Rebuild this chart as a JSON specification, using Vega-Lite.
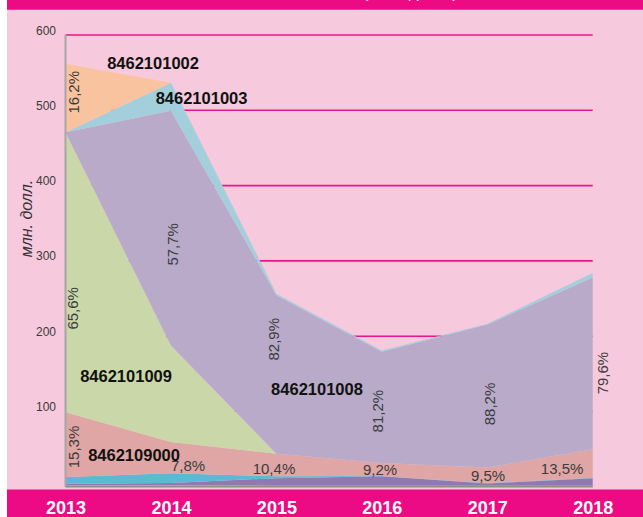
{
  "$schema": "https://vega.github.io/schema/vega-lite/v6.json",
  "width": 636,
  "height": 517,
  "autosize": {"type": "none"},
  "padding": {"left": 7, "top": 0, "right": 0, "bottom": 0},
  "background": "white",
  "view": {"fill": "#f7c9dd", "stroke": null},
  "datasets": {
    "series": [
      {"year": 2013, "code": "s1", "ord": 1, "value": 1.2},
      {"year": 2014, "code": "s1", "ord": 1, "value": 1.2},
      {"year": 2015, "code": "s1", "ord": 1, "value": 1},
      {"year": 2016, "code": "s1", "ord": 1, "value": 1},
      {"year": 2017, "code": "s1", "ord": 1, "value": 1},
      {"year": 2018, "code": "s1", "ord": 1, "value": 1},
      {"year": 2013, "code": "s2", "ord": 2, "value": 0.8},
      {"year": 2014, "code": "s2", "ord": 2, "value": 0.8},
      {"year": 2015, "code": "s2", "ord": 2, "value": 0.5},
      {"year": 2016, "code": "s2", "ord": 2, "value": 0.5},
      {"year": 2017, "code": "s2", "ord": 2, "value": 0.5},
      {"year": 2018, "code": "s2", "ord": 2, "value": 0.5},
      {"year": 2013, "code": "s3", "ord": 3, "value": 2},
      {"year": 2014, "code": "s3", "ord": 3, "value": 3},
      {"year": 2015, "code": "s3", "ord": 3, "value": 10},
      {"year": 2016, "code": "s3", "ord": 3, "value": 12.5},
      {"year": 2017, "code": "s3", "ord": 3, "value": 3},
      {"year": 2018, "code": "s3", "ord": 3, "value": 10},
      {"year": 2013, "code": "s4", "ord": 4, "value": 9},
      {"year": 2014, "code": "s4", "ord": 4, "value": 13},
      {"year": 2015, "code": "s4", "ord": 4, "value": 2.5},
      {"year": 2016, "code": "s4", "ord": 4, "value": 0.5},
      {"year": 2017, "code": "s4", "ord": 4, "value": 0.5},
      {"year": 2018, "code": "s4", "ord": 4, "value": 0.5},
      {"year": 2013, "code": "8462109000", "ord": 5, "value": 86},
      {"year": 2014, "code": "8462109000", "ord": 5, "value": 41.5},
      {"year": 2015, "code": "8462109000", "ord": 5, "value": 30},
      {"year": 2016, "code": "8462109000", "ord": 5, "value": 17},
      {"year": 2017, "code": "8462109000", "ord": 5, "value": 20.5},
      {"year": 2018, "code": "8462109000", "ord": 5, "value": 38},
      {"year": 2013, "code": "8462101009", "ord": 6, "value": 372},
      {"year": 2014, "code": "8462101009", "ord": 6, "value": 128},
      {"year": 2015, "code": "8462101009", "ord": 6, "value": 0},
      {"year": 2016, "code": "8462101009", "ord": 6, "value": 0},
      {"year": 2017, "code": "8462101009", "ord": 6, "value": 0},
      {"year": 2018, "code": "8462101009", "ord": 6, "value": 0},
      {"year": 2013, "code": "8462101008", "ord": 7, "value": 0},
      {"year": 2014, "code": "8462101008", "ord": 7, "value": 312},
      {"year": 2015, "code": "8462101008", "ord": 7, "value": 210.5},
      {"year": 2016, "code": "8462101008", "ord": 7, "value": 148},
      {"year": 2017, "code": "8462101008", "ord": 7, "value": 190},
      {"year": 2018, "code": "8462101008", "ord": 7, "value": 228},
      {"year": 2013, "code": "8462101003", "ord": 8, "value": 0},
      {"year": 2014, "code": "8462101003", "ord": 8, "value": 37},
      {"year": 2015, "code": "8462101003", "ord": 8, "value": 2},
      {"year": 2016, "code": "8462101003", "ord": 8, "value": 1.5},
      {"year": 2017, "code": "8462101003", "ord": 8, "value": 1},
      {"year": 2018, "code": "8462101003", "ord": 8, "value": 6},
      {"year": 2013, "code": "8462101002", "ord": 9, "value": 91},
      {"year": 2014, "code": "8462101002", "ord": 9, "value": 0},
      {"year": 2015, "code": "8462101002", "ord": 9, "value": 0},
      {"year": 2016, "code": "8462101002", "ord": 9, "value": 0},
      {"year": 2017, "code": "8462101002", "ord": 9, "value": 0},
      {"year": 2018, "code": "8462101002", "ord": 9, "value": 0}
    ],
    "grid": [
      {"from": 2013, "to": 2018, "level": 100},
      {"from": 2013, "to": 2018, "level": 200},
      {"from": 2013, "to": 2018, "level": 300},
      {"from": 2013, "to": 2018, "level": 400},
      {"from": 2013, "to": 2018, "level": 500},
      {"from": 2013, "to": 2018, "level": 600}
    ],
    "names": [
      {"x": 2013.83, "y": 561, "label": "8462101002"},
      {"x": 2014.29, "y": 515, "label": "8462101003"},
      {"x": 2013.574, "y": 146, "label": "8462101009"},
      {"x": 2015.385, "y": 128.5, "label": "8462101008"},
      {"x": 2013.65, "y": 40.9, "label": "8462109000"}
    ],
    "vpct": [
      {"x": 2013.085, "y": 524, "label": "16,2%"},
      {"x": 2013.075, "y": 237, "label": "65,6%"},
      {"x": 2013.08, "y": 52.9, "label": "15,3%"},
      {"x": 2014.02, "y": 322, "label": "57,7%"},
      {"x": 2014.977, "y": 196, "label": "82,9%"},
      {"x": 2015.964, "y": 100.5, "label": "81,2%"},
      {"x": 2017.026, "y": 110, "label": "88,2%"},
      {"x": 2018.098, "y": 151, "label": "79,6%"}
    ],
    "hpct": [
      {"x": 2014.162, "y": 27.6, "label": "7,8%"},
      {"x": 2014.977, "y": 23.6, "label": "10,4%"},
      {"x": 2015.983, "y": 22.3, "label": "9,2%"},
      {"x": 2017.008, "y": 14.3, "label": "9,5%"},
      {"x": 2017.71, "y": 23.6, "label": "13,5%"}
    ]
  },
  "layer": [
    {
      "data": {"values": [{"x1": 2012.4452, "x2": 2018.477, "y1": 633.5, "y2": 646.5}]},
      "mark": {"type": "rect", "color": "#ec0b84"},
      "encoding": {
        "x": {"field": "x1", "type": "quantitative", "scale": {"domain": [2012.4452, 2018.477], "nice": false, "zero": false}},
        "x2": {"field": "x2"},
        "y": {"field": "y1", "type": "quantitative", "scale": {"domain": [-40.1, 646.5], "nice": false, "zero": false}},
        "y2": {"field": "y2"}
      }
    },
    {
      "data": {"values": [{"x1": 2012.4452, "x2": 2018.477, "y1": -40.1, "y2": -3.6}]},
      "mark": {"type": "rect", "color": "#ec0b84"},
      "encoding": {
        "x": {"field": "x1", "type": "quantitative"},
        "x2": {"field": "x2"},
        "y": {"field": "y1", "type": "quantitative"},
        "y2": {"field": "y2"}
      }
    },
    {
      "data": {"name": "grid"},
      "mark": {"type": "rule", "color": "#e8168a", "strokeWidth": 1.6},
      "encoding": {
        "x": {"field": "from", "type": "quantitative"},
        "x2": {"field": "to"},
        "y": {"field": "level", "type": "quantitative"}
      }
    },
    {
      "data": {"name": "series"},
      "mark": {"type": "area", "interpolate": "linear"},
      "encoding": {
        "x": {
          "field": "year", "type": "quantitative",
          "axis": {
            "values": [2013, 2014, 2015, 2016, 2017, 2018], "format": "d", "orient": "bottom",
            "offset": -27, "domain": false, "ticks": false, "grid": false,
            "labelPadding": 18.5, "labelBaseline": "middle", "labelColor": "white",
            "labelFont": "Liberation Sans, Arial, sans-serif",
            "labelFontWeight": "bold", "labelFontSize": 18, "labelFlush": false, "labelOverlap": false,
            "title": null, "zindex": 1
          }
        },
        "y": {
          "field": "value", "type": "quantitative", "stack": "zero",
          "axis": {
            "values": [100, 200, 300, 400, 500, 600], "offset": -58.5,
            "domain": false, "ticks": false, "grid": false,
            "labelPadding": 10, "labelOffset": -5,
            "labelFont": "Liberation Sans, Arial, sans-serif",
            "labelFontSize": 12, "labelColor": "#3a3a3a",
            "title": "млн. долл.",
            "titleFont": "Liberation Sans, Arial, sans-serif",
            "titleFontStyle": "italic", "titleFontWeight": "normal", "titleFontSize": 16,
            "titleColor": "#333333", "titleX": -39.5, "titleY": 218, "titleAngle": 270,
            "titleAlign": "center", "titleBaseline": "middle", "zindex": 1
          }
        },
        "color": {
          "field": "code", "type": "nominal", "legend": null,
          "scale": {
            "domain": ["s1", "s2", "s3", "s4", "8462109000", "8462101009", "8462101008", "8462101003", "8462101002"],
            "range": ["#9a9a6a", "#d99a5a", "#9079b2", "#5ab9d3", "#dfa6a5", "#c9d7a9", "#b8aac8", "#a3cfdc", "#fac3a0"]
          }
        },
        "order": {"field": "ord", "type": "quantitative", "sort": "ascending"}
      }
    },
    {
      "data": {"values": [{"x": 2013, "y1": 0, "y2": 600}]},
      "mark": {"type": "rule", "color": "#a6a6a6", "strokeWidth": 2},
      "encoding": {
        "x": {"field": "x", "type": "quantitative"},
        "y": {"field": "y1", "type": "quantitative"},
        "y2": {"field": "y2"}
      }
    },
    {
      "data": {"values": [{"x1": 2013, "x2": 2018, "y": 0}]},
      "mark": {"type": "rule", "color": "#8f8f80", "strokeWidth": 1.6},
      "encoding": {
        "x": {"field": "x1", "type": "quantitative"},
        "x2": {"field": "x2"},
        "y": {"field": "y", "type": "quantitative"}
      }
    },
    {
      "data": {"name": "names"},
      "mark": {"type": "text", "align": "center", "baseline": "middle", "font": "Liberation Sans, Arial, sans-serif", "fontWeight": "bold", "fontSize": 16.5, "color": "#111111"},
      "encoding": {
        "x": {"field": "x", "type": "quantitative"},
        "y": {"field": "y", "type": "quantitative"},
        "text": {"field": "label"}
      }
    },
    {
      "data": {"name": "vpct"},
      "mark": {"type": "text", "align": "center", "baseline": "middle", "angle": 270, "font": "Liberation Sans, Arial, sans-serif", "fontSize": 15, "color": "#3c3c3c"},
      "encoding": {
        "x": {"field": "x", "type": "quantitative"},
        "y": {"field": "y", "type": "quantitative"},
        "text": {"field": "label"}
      }
    },
    {
      "data": {"name": "hpct"},
      "mark": {"type": "text", "align": "center", "baseline": "middle", "font": "Liberation Sans, Arial, sans-serif", "fontSize": 15, "color": "#3c3c3c"},
      "encoding": {
        "x": {"field": "x", "type": "quantitative"},
        "y": {"field": "y", "type": "quantitative"},
        "text": {"field": "label"}
      }
    },
    {
      "data": {"values": [{"x": 2016.27, "y": 649.8, "label": "(млн. долл.)"}]},
      "mark": {"type": "text", "align": "center", "baseline": "alphabetic", "font": "Liberation Sans, Arial, sans-serif", "fontSize": 17, "color": "white"},
      "encoding": {
        "x": {"field": "x", "type": "quantitative"},
        "y": {"field": "y", "type": "quantitative"},
        "text": {"field": "label"}
      }
    }
  ]
}
